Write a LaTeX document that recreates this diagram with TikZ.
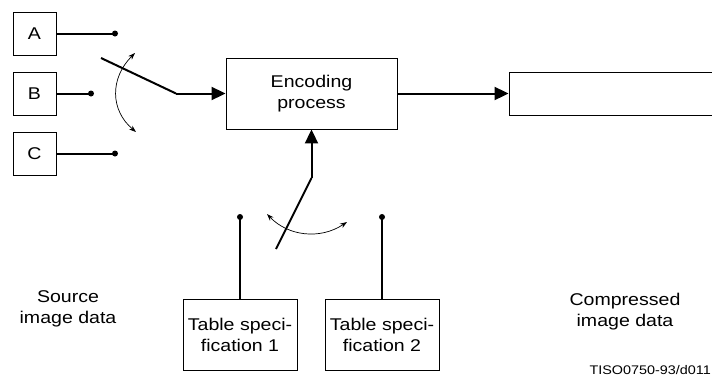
\documentclass[tikz,border=0pt]{standalone}
\usepackage{fontspec}
\setmainfont{Liberation Sans}[FakeStretch=1.15]
\usepackage{tikz}
\usetikzlibrary{arrows.meta, positioning}

\begin{document}
\begin{tikzpicture}[x=1pt, y=-1pt,
		box/.style={draw, line width=0.9pt, inner sep=0pt, align=center},
		link/.style={line width=2pt},
		feed/.style={line width=2pt, -{Triangle[length=14pt, width=13pt]}},
		swing/.style={line width=0.7pt, {Stealth[length=7pt, width=5pt]}-{Stealth[length=7pt, width=5pt]}},
		label/.style={align=center, inner sep=0pt}]
	\useasboundingbox (0,0) rectangle (712,378);
	\fontsize{17}{21}\selectfont

	% Source images and switch contacts
	\node[box, minimum width=43pt, minimum height=43pt] (srcA) at (34.5,33.5) {A};
	\node[box, minimum width=43pt, minimum height=43pt] (srcB) at (34.5,93.5) {B};
	\node[box, minimum width=43pt, minimum height=43pt] (srcC) at (34.5,153.5) {C};
	\coordinate (dotA) at (115,33.5);
	\coordinate (dotB) at (91,93.5);
	\coordinate (dotC) at (115,153.5);
	\draw[link] (srcA) -- (dotA);
	\draw[link] (srcB) -- (dotB);
	\draw[link] (srcC) -- (dotC);
	\foreach \d in {dotA, dotB, dotC}
		\fill (\d) circle (3pt);

	% Encoding process and output
	\node[box, minimum width=171pt, minimum height=71pt] (enc) at (311.5,93.5) {Encoding\\process};
	\node[box, minimum width=210pt, minimum height=43pt] (out) at (614,93.5) {};

	% Switch arm to the encoder
	\coordinate (armA) at (101,58);
	\coordinate (kneeA) at (176,93.5);
	\draw[link] (armA) -- (kneeA);
	\draw[feed] (kneeA) -- (enc.west);
	\draw[swing] (135,53) .. controls (110,78) and (110,110) .. (136,132);
	\draw[feed] (enc.east) -- (out.west);

	% Table specifications and switch contacts
	\node[box, minimum width=114pt, minimum height=71pt] (spec1) at (240,334.5) {Table speci-\\fication 1};
	\node[box, minimum width=114pt, minimum height=71pt] (spec2) at (382,334.5) {Table speci-\\fication 2};
	\coordinate (dot1) at (spec1.north |- 0,217);
	\coordinate (dot2) at (spec2.north |- 0,217);
	\draw[link] (spec1.north) -- (dot1);
	\draw[link] (spec2.north) -- (dot2);
	\foreach \d in {dot1, dot2}
		\fill (\d) circle (3pt);

	% Switch arm from the tables
	\coordinate (armT) at (276,249);
	\coordinate (kneeT) at (enc.south |- 0,178);
	\draw[link] (armT) -- (kneeT);
	\draw[feed] (kneeT) -- (enc.south);
	\draw[swing] (267,214) .. controls (288,236) and (320,240) .. (347,222);

	% Labels
	\node[label] (srclabel) at (68,309) {Source\\image data};
	\node[label] (outlabel) at (625,312) {Compressed\\image data};
	\node[label, anchor=base east, font=\fontsize{12.5}{15}\selectfont] (ref) at (711,374) {TISO0750-93/d011};
\end{tikzpicture}
\end{document}
